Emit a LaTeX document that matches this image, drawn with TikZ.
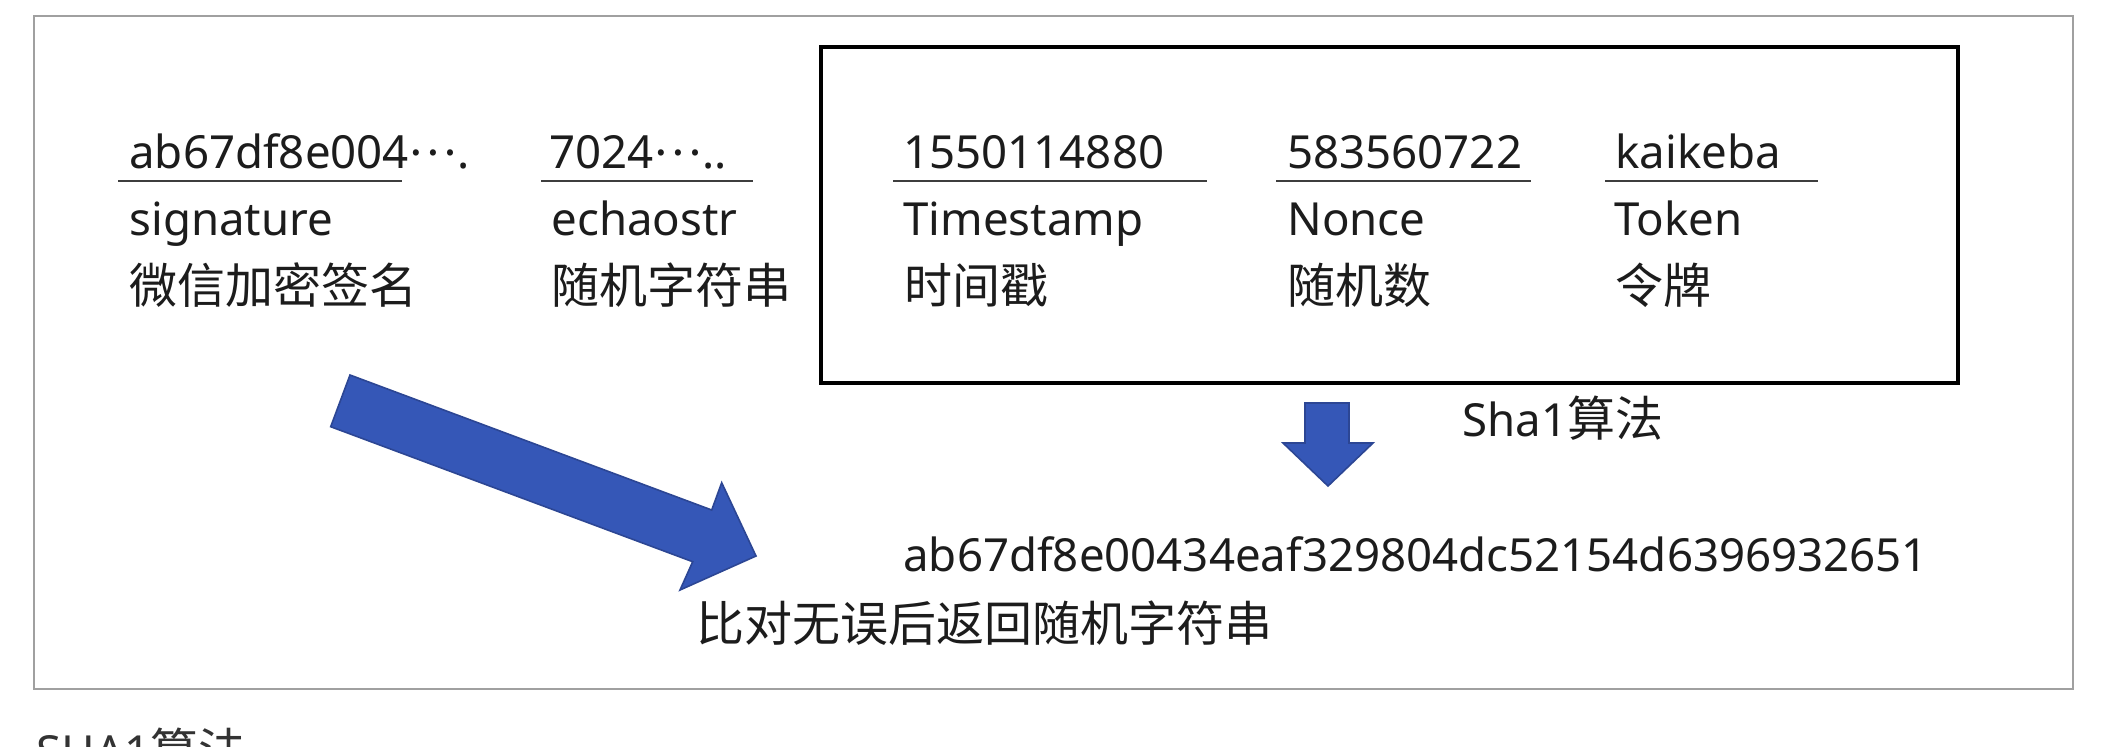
\documentclass[tikz,border=0pt]{standalone}
\usepackage{fontspec}
\setmainfont{Noto Sans}
\newfontfamily\cjk{Noto Sans CJK SC}
\definecolor{arrowblue}{RGB}{53,87,183}
\definecolor{arrowedge}{RGB}{44,70,148}
\definecolor{framegray}{RGB}{160,160,160}
\definecolor{txt}{RGB}{28,28,28}
\newcommand{\zhsize}{\fontsize{24}{28}\selectfont}
\newcommand{\middots}{\raisebox{0.28em}{\cjk …}}
\tikzset{
  lat/.style={anchor=base west, inner sep=0pt, text=txt, font=\fontsize{22.8}{27}\selectfont},
  zh/.style={anchor=base west, inner sep=0pt, text=txt, font=\cjk\zhsize},
  uline/.style={line width=1pt, draw=txt!85},
  blockarrow/.style={fill=arrowblue, draw=arrowedge, line width=0.8pt, line join=miter},
  outerframe/.style={draw=framegray, line width=1pt},
  paramframe/.style={draw=black, line width=1.7pt},
}
\begin{document}
\begin{tikzpicture}[x=0.5pt,y=-0.5pt]
\useasboundingbox (0,0) rectangle (2114,746);
\clip (0,0) rectangle (2114,746);
\fill[white] (0,0) rectangle (2114,746);

% frames
\draw[outerframe] (34,16) rectangle (2073,689);
\draw[paramframe] (821,47) rectangle (1958,383);

% column 1
\node[lat] (v1) at (129,168) {ab67df8e004\middots.};
\node[lat] (n1) at (129,235) {signature};
\node[zh]  (z1) at (129,303) {微信加密签名};
\draw[uline] (118,181) -- (402,181);

% column 2
\node[lat] (v2) at (549,168) {7024\middots..};
\node[lat] (n2) at (551,235) {echaostr};
\node[zh]  (z2) at (551,303) {随机字符串};
\draw[uline] (541,181) -- (753,181);

% column 3
\node[lat] (v3) at (903,168) {1550114880};
\node[lat] (n3) at (903,235) {Timestamp};
\node[zh]  (z3) at (904,303) {时间戳};
\draw[uline] (893,181) -- (1207,181);

% column 4
\node[lat] (v4) at (1287,168) {583560722};
\node[lat] (n4) at (1287,235) {Nonce};
\node[zh]  (z4) at (1287,303) {随机数};
\draw[uline] (1276,181) -- (1531,181);

% column 5
\node[lat] (v5) at (1615,168) {kaikeba};
\node[lat] (n5) at (1614,235) {Token};
\node[zh]  (z5) at (1615,303) {令牌};
\draw[uline] (1605,181) -- (1818,181);

% sha1 label and down arrow
\node[lat] (sha) at (1462,436) {Sha1{\cjk\zhsize 算法}};
\draw[blockarrow] (1305,403) -- (1349,403) -- (1349,443) -- (1373,443)
  -- (1328,486) -- (1283,443) -- (1305,443) -- cycle;

% result hash
\node[lat] (hash) at (903,571) {ab67df8e00434eaf329804dc52154d6396932651};
\node[zh]  (ret) at (696,641) {比对无误后返回随机字符串};

% big diagonal arrow
\draw[blockarrow] (350,375) -- (711.7,510) -- (721.7,482.7) -- (756,556)
  -- (680,590) -- (692.7,561.7) -- (330.7,426.7) -- cycle;

% caption below (cut off by the page edge, as in the reference)
\node[lat, text=black!80] (cap) at (36,768) {SHA1{\cjk\zhsize 算法}};
\end{tikzpicture}
\end{document}
